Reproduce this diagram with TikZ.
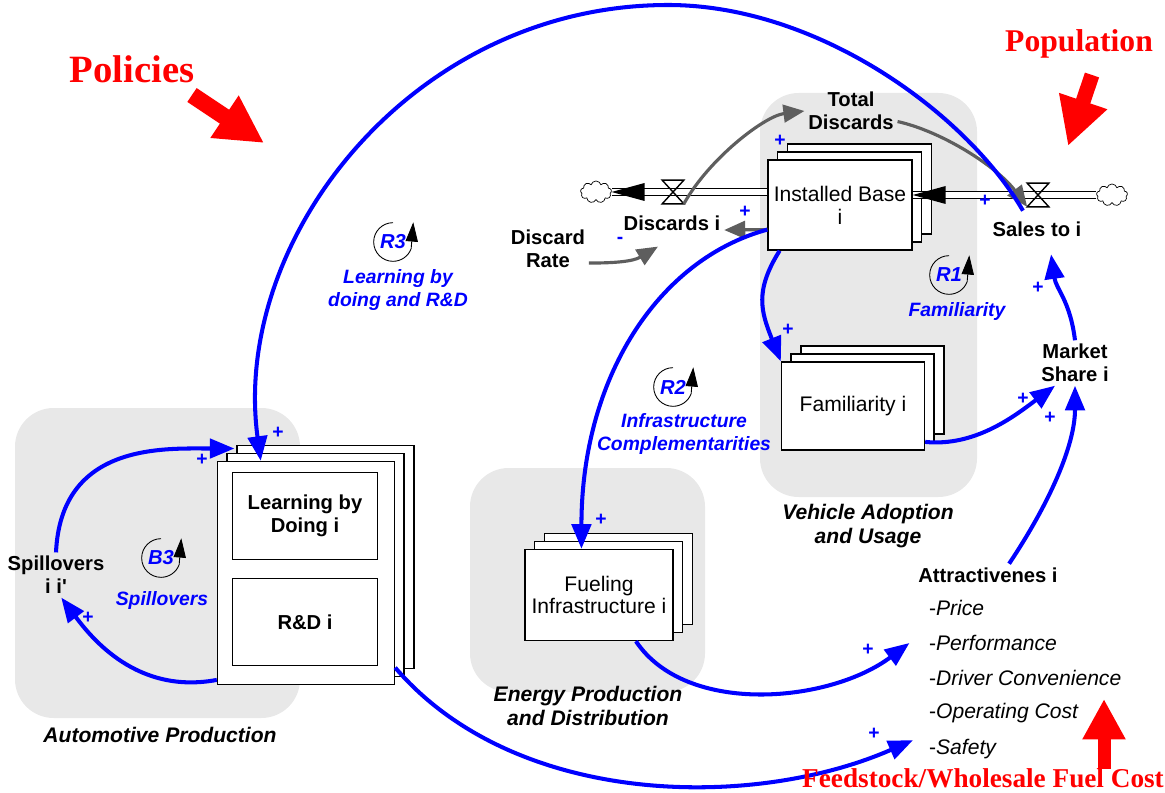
\documentclass[tikz,border=0pt]{standalone}
\usepackage{fontspec}
\setmainfont{Liberation Sans}
\newfontfamily\plainsans{Liberation Sans}
\newfontfamily\serifred{Liberation Serif}
\usetikzlibrary{arrows.meta,shapes.symbols,shadows}
\definecolor{linkblue}{HTML}{0000FF}
\definecolor{inflgrey}{HTML}{5E5E5E}
\definecolor{sectorgrey}{HTML}{E8E8E8}
\definecolor{driverred}{HTML}{FF0000}

\newcommand{\loopmark}[1]{%
  \draw[loopline] (#1.center) ++(0pt,11pt)
    arc[start angle=90, end angle=340, radius=11pt] -- ++(1.2pt,15pt);}

\begin{document}
\begin{tikzpicture}[x=0.02cm, y=-0.02cm,
  sector/.style={fill=sectorgrey, rounded corners=22pt},
  sectorlbl/.style={font=\bfseries\itshape\fontsize{12}{13.6}\selectfont, align=center},
  stock/.style={draw, fill=white, line width=0.8pt, align=center, inner sep=0pt,
    font=\fontsize{12}{13}\selectfont,
    copy shadow={shadow xshift=11pt, shadow yshift=9pt, draw, fill=white, line width=0.8pt},
    copy shadow={shadow xshift=5.5pt, shadow yshift=4.5pt, draw, fill=white, line width=0.8pt}},
  subbox/.style={draw, fill=white, line width=0.8pt, align=center,
    minimum width=2.9cm, minimum height=1.74cm, font=\bfseries\fontsize{11.5}{13}\selectfont},
  var/.style={font=\bfseries\fontsize{11.5}{13}\selectfont, align=center, inner sep=2pt},
  attrlist/.style={anchor=west, font=\fontsize{12}{13}\selectfont, inner sep=1pt},
  polsign/.style={linkblue, font=\bfseries\fontsize{11}{12}\selectfont, inner sep=0pt},
  loopid/.style={linkblue, font=\bfseries\itshape\fontsize{11.5}{13}\selectfont, inner sep=1pt},
  looptxt/.style={linkblue, font=\bfseries\itshape\fontsize{11}{13.4}\selectfont, align=center},
  loopline/.style={black, line width=0.5pt, -{Triangle[length=11pt,width=7pt]}},
  link/.style={linkblue, line width=2.3pt, -{Triangle[length=14pt,width=11pt]}},
  infl/.style={inflgrey, line width=1.8pt, -{Triangle[length=12pt,width=10pt]}},
  pipe/.style={draw, double=white, double distance=3pt, line width=0.8pt},
  valve/.style={minimum width=0.42cm, minimum height=0.46cm, inner sep=0pt},
  valveline/.style={line width=0.8pt, line join=miter},
  source/.style={cloud, cloud puffs=9, cloud ignores aspect, draw, fill=white, line width=0.4pt,
    minimum width=0.62cm, minimum height=0.44cm, inner sep=0pt},
  driver/.style={driverred, font=\serifred\bfseries\fontsize{#1}{#1}\selectfont},
  driverarrow/.style 2 args={driverred, line width=#1, -{Triangle[length=#2,width=#2]}}]

  \useasboundingbox (0,0) rectangle (1165,793);

  % sectors
  \fill[sector] (15,408) rectangle (300,718);
  \fill[sector] (470,468) rectangle (705,692);
  \fill[sector] (760,93) rectangle (977,497);
  \node[sectorlbl] (autolbl) at (160,735) {Automotive Production};
  \node[sectorlbl] (energylbl) at (588,706) {Energy Production\\and Distribution};
  \node[sectorlbl] (vehlbl) at (868,526) {Vehicle Adoption\\and Usage};

  % stocks
  \node[stock, minimum width=2.88cm, minimum height=1.8cm] (ib) at (840,205) {Installed Base\\i};
  \node[stock, minimum width=2.86cm, minimum height=1.76cm] (fam) at (853,406) {Familiarity i};
  \node[stock, minimum width=2.96cm, minimum height=1.82cm] (fuel) at (599,595) {Fueling\\Infrastructure i};
  \node[stock, minimum width=3.54cm, minimum height=4.46cm] (ldrd) at (306,573) {};
  \node[subbox] (lbd) at (305,516) {Learning by\\Doing i};
  \node[subbox] (rd) at (305,622) {R\&D i};

  % flows
  \node[source] (cloudl) at (596,192) {};
  \node[source] (cloudr) at (1112,195) {};
  \draw[pipe] (ib.west |- cloudl.east) -- (cloudl.east);
  \draw[pipe] (cloudr.west) -- (cloudr.west -| ib.east);
  \fill (cloudl.east) -- ++(33,-9) -- ++(0,18) -- cycle;
  \fill (cloudr.west -| ib.east) -- ++(33,-9) -- ++(0,18) -- cycle;
  \node[valve] (vl) at (673,192) {};
  \node[valve] (vr) at (1038,195) {};
  \draw[valveline] (vl.north west) -- (vl.north east) -- (vl.south west) -- (vl.south east) -- cycle;
  \draw[valveline] (vr.north west) -- (vr.north east) -- (vr.south west) -- (vr.south east) -- cycle;

  % auxiliaries
  \node[var] (totdis) at (851,111) {Total\\Discards};
  \node[var] (disc) at (672,223) {Discards i};
  \node[var] (drate) at (548,249) {Discard\\Rate};
  \node[var] (sales) at (1037,229) {Sales to i};
  \node[var] (mshare) at (1075,363) {Market\\Share i};
  \node[var] (spill) at (56,575) {Spillovers\\{\plainsans\bfseries i i'}};
  \node[var] (attr) at (988,575) {Attractivenes i};
  \node[attrlist] (price) at (927,608) {-\textit{Price}};
  \node[attrlist] (perf) at (927,643) {-\textit{Performance}};
  \node[attrlist] (conv) at (927,678) {-\textit{Driver Convenience}};
  \node[attrlist] (opcost) at (927,713) {-\textit{Operating Cost}};
  \node[attrlist] (safety) at (927,749) {-\textit{Safety}};

  % grey links
  \draw[infl] (vl.south east) .. controls +(25,-45) and +(-40,5) .. (totdis.west);
  \draw[infl] ([yshift=-6pt]totdis.east) .. controls +(45,10) and +(-30,-40) .. (vr.south west);
  \draw[infl] ([yshift=12pt]ib.south west) -- ([yshift=-4pt]disc.east);
  \draw[infl] ([yshift=-8pt]drate.east) .. controls +(25,0) and +(-25,15) .. ([xshift=-8pt,yshift=-7pt]disc.south);

  % blue links
  \coordinate (arctop) at (668,5);
  \draw[link] ([xshift=-8pt,yshift=4pt]sales.north) .. controls +(-56,-97) and +(150,0) .. (arctop)
    .. controls +(-255,0) and +(-30,-222) .. ([xshift=25pt]ldrd.north west);
  \draw[link] ([yshift=12pt]ib.south west) .. controls +(-110,30) and +(0,-170) .. ([xshift=-10pt]fuel.north);
  \draw[link] ([xshift=7pt]ib.south west) .. controls +(-25,40) and +(-20,-50) .. (fam.north west);
  \draw[link] ([yshift=5pt]fam.south east) .. controls +(50,5) and +(-40,30) .. ([xshift=10pt]mshare.south west);
  \draw[link] ([xshift=12pt]attr.north) .. controls +(40,-60) and +(0,60) .. (mshare.south);
  \draw[link] (mshare.north) .. controls +(-5,-40) and +(5,35) .. ([xshift=8pt,yshift=-8pt]sales.south);
  \draw[link] ([xshift=21pt]fuel.south) .. controls +(50,75) and +(-80,60) .. ([xshift=-10pt]perf.west);
  \draw[link] ([yshift=10pt]ldrd.south east) .. controls +(120,140) and +(-160,70) .. ([xshift=-8pt,yshift=5pt]safety.west);
  \draw[link] ([yshift=3pt]ldrd.south west) .. controls +(-80,15) and +(30,40) .. ([xshift=3pt]spill.south);
  \draw[link] (spill.north) .. controls +(5,-110) and +(-70,0) .. ([xshift=10pt,yshift=7pt]ldrd.north west);

  % polarities
  \node[polsign] (s1) at (278,433) {+};
  \node[polsign] (s2) at (202,460) {+};
  \node[polsign] (s3) at (88,618) {+};
  \node[polsign] (s4) at (601,520) {+};
  \node[polsign] (s5) at (788,330) {+};
  \node[polsign] (s6) at (745,212) {+};
  \node[polsign] (s7) at (780,141) {+};
  \node[polsign] (s8) at (985,201) {+};
  \node[polsign] (s9) at (1038,288) {+};
  \node[polsign] (s10) at (1023,399) {+};
  \node[polsign] (s11) at (1050,418) {+};
  \node[polsign] (s12) at (868,650) {+};
  \node[polsign] (s13) at (874,734) {+};
  \node[polsign] (s14) at (620,240) {-};

  % loops
  \node[loopid] (r3) at (393,242) {R3};
  \loopmark{r3}
  \node[looptxt] (r3txt) at (398,290) {Learning by\\doing and R\&D};
  \node[loopid] (r2) at (673,387) {R2};
  \loopmark{r2}
  \node[looptxt] (r2txt) at (684,434) {Infrastructure\\Complementarities};
  \node[loopid] (r1) at (949,275) {R1};
  \loopmark{r1}
  \node[looptxt] (r1txt) at (957,312) {Familiarity};
  \node[loopid] (b3) at (161,558) {B3};
  \loopmark{b3}
  \node[looptxt] (b3txt) at (162,600) {Spillovers};

  % external drivers
  \node[driver=22] (policies) at (132,69) {Policies};
  \node[driver=18] (population) at (1079,44) {Population};
  \node[driver=15.5] (feedstock) at (983,778) {Feedstock/Wholesale Fuel Cost};
  \coordinate (poltail) at (192,95);
  \coordinate (poltip) at (264,143);
  \coordinate (poptail) at (1092,75);
  \coordinate (poptip) at (1068,146);
  \coordinate (fuetail) at (1104,769);
  \coordinate (fuetip) at (1104,699);
  \draw[driverarrow={9.5pt}{27pt}] (poltail) -- (poltip);
  \draw[driverarrow={8.5pt}{27pt}] (poptail) -- (poptip);
  \draw[driverarrow={7.4pt}{23pt}] (fuetail) -- (fuetip);
\end{tikzpicture}
\end{document}
